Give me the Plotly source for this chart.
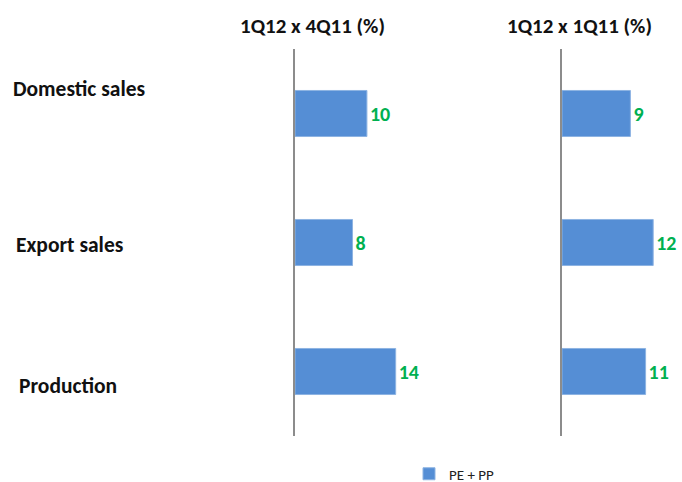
import plotly.graph_objects as go

categories = ["Domestic sales", "Export sales", "Production"]
q_vs_prev_quarter = [10, 8, 14]    # 1Q12 x 4Q11 (%)
q_vs_prev_year = [9, 12, 11]       # 1Q12 x 1Q11 (%)
panel_titles = ["1Q12 x 4Q11 (%)", "1Q12 x 1Q11 (%)"]
series_name = "PE + PP"

W, H = 682, 482
FONT = "Calibri, Carlito, Liberation Sans, Arial, sans-serif"
BAR = "#558ED5"
GREEN = "#00B050"


def px_(v):
    return v / W


def py(v):
    return 1 - v / H


fig = go.Figure()
fig.add_trace(go.Bar(
    y=categories, x=q_vs_prev_quarter, orientation="h", name=series_name,
    marker=dict(color=BAR, line=dict(color="#8DB3E2", width=1)),
    text=[str(v) for v in q_vs_prev_quarter], textposition="outside",
    textfont=dict(color=GREEN, size=20, family=FONT, weight="bold"),
    cliponaxis=False, xaxis="x", yaxis="y", showlegend=True,
))
fig.add_trace(go.Bar(
    y=categories, x=q_vs_prev_year, orientation="h", name=series_name,
    marker=dict(color=BAR, line=dict(color="#8DB3E2", width=1)),
    text=[str(v) for v in q_vs_prev_year], textposition="outside",
    textfont=dict(color=GREEN, size=20, family=FONT, weight="bold"),
    cliponaxis=False, xaxis="x2", yaxis="y2", showlegend=False,
))

ydom = [py(436), py(49)]
axis_y = dict(domain=ydom, categoryorder="array", categoryarray=categories,
              autorange="reversed", showticklabels=False, ticks="",
              showgrid=False, zeroline=False, showline=True,
              linecolor="#8C8C8C", linewidth=1.5)
fig.update_layout(
    width=W, height=H,
    margin=dict(l=0, r=0, t=0, b=0, pad=0, autoexpand=False),
    paper_bgcolor="white", plot_bgcolor="white",
    bargap=0.643,
    xaxis=dict(domain=[px_(295), px_(540)], range=[0, 34.07], visible=False),
    xaxis2=dict(domain=[px_(562), 1.0], range=[0, 15.79], visible=False),
    yaxis=dict(anchor="x", **axis_y),
    yaxis2=dict(anchor="x2", **axis_y),
    legend=dict(orientation="h", x=px_(409), xanchor="left",
                y=py(474), yanchor="middle",
                font=dict(size=15, family=FONT, color="#222222"),
                itemwidth=30, bgcolor="rgba(0,0,0,0)"),
    font=dict(family=FONT),
)

for t, cx in zip(panel_titles, [312, 579]):
    fig.add_annotation(text=t, xref="paper", yref="paper", x=px_(cx), y=py(26),
                       xanchor="center", yanchor="middle", showarrow=False,
                       font=dict(size=21, family=FONT, color="#111111", weight="bold"))

label_pos = [(11, 89), (14, 245), (17, 386)]
for c, (lx, ly) in zip(categories, label_pos):
    fig.add_annotation(text=c, xref="paper", yref="paper", x=px_(lx), y=py(ly),
                       xanchor="left", yanchor="middle", showarrow=False,
                       font=dict(size=21.5, family=FONT, color="#111111", weight="bold"))

fig.write_html("out.html", config={"displayModeBar": False},
               post_script="document.body.style.margin='0';")
